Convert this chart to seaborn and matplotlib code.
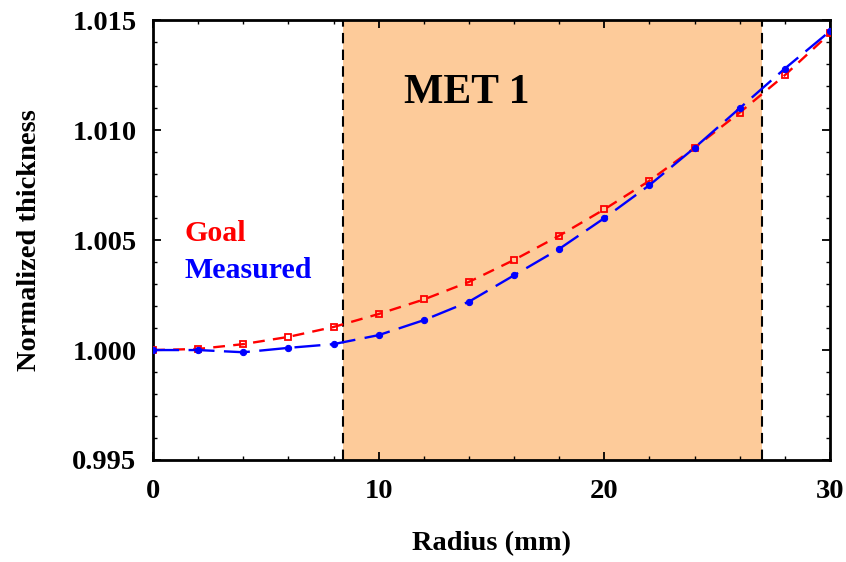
import numpy as np
import pandas as pd
import matplotlib
matplotlib.use("Agg")
import matplotlib.pyplot as plt
import seaborn as sns
from matplotlib.ticker import MultipleLocator

radius = [0, 2, 4, 6, 8, 10, 12, 14, 16, 18, 20, 22, 24, 26, 28, 30]
goal = [1.0000, 1.00005, 1.00027, 1.0006, 1.00105, 1.00164, 1.0023, 1.0031,
        1.0041, 1.0052, 1.0064, 1.0077, 1.0092, 1.0108, 1.0125, 1.0144]
measured = [1.0000, 1.0000, 0.9999, 1.0001, 1.00027, 1.00068, 1.00136, 1.0022,
            1.0034, 1.0046, 1.0060, 1.0075, 1.0092, 1.0110, 1.0128, 1.0145]
met_region = [8.42, 26.98]

sns.set_theme(style="white")
plt.rcParams['font.family'] = ['Liberation Serif', 'DejaVu Serif']
plt.rcParams['font.weight'] = 'bold'
plt.rcParams['text.color'] = 'black'
plt.rcParams['axes.labelcolor'] = 'black'
plt.rcParams['xtick.color'] = 'black'
plt.rcParams['ytick.color'] = 'black'

fig = plt.figure(figsize=(8.46, 5.62), dpi=100)
ax = fig.add_axes([0.181, 0.1815, 0.8, 0.7825])

ax.axvspan(met_region[0], met_region[1], color='#FDCB9A', zorder=0, lw=0)
for xv in met_region:
    ax.axvline(xv, color='black', ls=(0, (5, 3)), lw=1.5, zorder=1)

df_goal = pd.DataFrame({'r': radius, 'v': goal})
df_meas = pd.DataFrame({'r': radius, 'v': measured})

sns.lineplot(data=df_goal, x='r', y='v', ax=ax, color='red', lw=1.7,
             marker='s', markersize=4.5, markerfacecolor='none',
             markeredgecolor='red', markeredgewidth=1.3, zorder=3)
ax.lines[-1].set_dashes((5, 3.5))
sns.lineplot(data=df_meas, x='r', y='v', ax=ax, color='blue', lw=1.7,
             marker='o', markersize=4.5, markerfacecolor='blue',
             markeredgecolor='blue', zorder=4)
ax.lines[-1].set_dashes((11, 4))

ax.set_xlim(0, 30)
ax.set_ylim(0.995, 1.015)
ax.xaxis.set_major_locator(MultipleLocator(10))
ax.xaxis.set_minor_locator(MultipleLocator(2))
ax.yaxis.set_major_locator(MultipleLocator(0.005))
ax.yaxis.set_minor_locator(MultipleLocator(0.001))
ax.yaxis.set_major_formatter(matplotlib.ticker.FormatStrFormatter('%.3f'))
ax.tick_params(which='both', direction='in', top=True, right=True,
               bottom=True, left=True, color='black', labelcolor='black')
ax.tick_params(which='major', length=6, width=1.3, labelsize=20.5)
ax.tick_params(axis='x', which='major', pad=14)
ax.tick_params(axis='y', which='major', pad=12)
ax.tick_params(which='minor', length=3, width=1.0)
for lab in ax.get_xticklabels() + ax.get_yticklabels():
    lab.set_fontweight('bold')
for sp in ax.spines.values():
    sp.set_linewidth(2)
    sp.set_color('black')

ax.set_xlabel('Radius (mm)', fontsize=20.5, fontweight='bold', labelpad=19)
ax.set_ylabel('Normalized thickness', fontsize=20.5, fontweight='bold', labelpad=22)

ax.text(11.1, 1.0117, 'MET 1', fontsize=30, fontweight='bold', va='center', ha='left', color='black')
ax.text(1.4, 1.0053, 'Goal', fontsize=21.5, fontweight='bold', color='red', va='center')
ax.text(1.4, 1.0036, 'Measured', fontsize=21.5, fontweight='bold', color='blue', va='center')

ax.grid(False)
fig.savefig('out.png', dpi=100)
